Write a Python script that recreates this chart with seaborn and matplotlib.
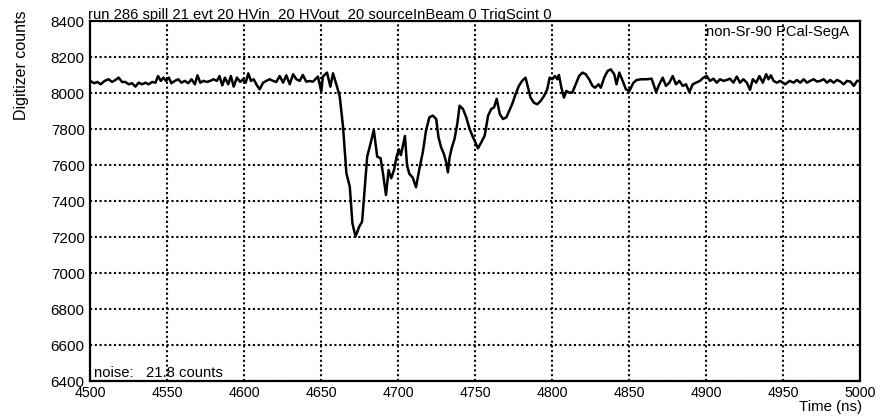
import numpy as np
import pandas as pd
import matplotlib
matplotlib.use("Agg")
import matplotlib.pyplot as plt
import seaborn as sns
from matplotlib.ticker import MultipleLocator

# ---- data ----
time_ns = [
    4500.0, 4502.4, 4504.6, 4506.7, 4509.3, 4511.9, 4514.1, 4516.3, 4518.4, 4520.6,
    4522.8, 4524.9, 4527.1, 4529.3, 4531.4, 4533.6, 4535.8, 4537.9, 4540.1, 4542.3,
    4544.0, 4545.8, 4547.5, 4549.2, 4551.0, 4552.7, 4554.9, 4557.1, 4559.2, 4561.4,
    4563.6, 4565.7, 4567.9, 4569.6, 4571.4, 4573.5, 4575.7, 4577.9, 4580.0, 4582.2,
    4583.9, 4585.7, 4587.4, 4589.6, 4591.3, 4593.1, 4595.2, 4597.4, 4599.1, 4600.9,
    4602.6, 4604.3, 4606.1, 4608.2, 4610.0, 4612.2, 4614.3, 4616.5, 4618.7, 4620.8,
    4623.0, 4625.2, 4627.3, 4629.5, 4631.7, 4633.8, 4636.0, 4638.0, 4640.2, 4642.4,
    4644.6, 4647.8, 4650.0, 4651.0, 4653.7, 4655.9, 4657.6, 4660.2, 4662.0, 4664.1,
    4666.3, 4668.5, 4670.2, 4672.2, 4674.6, 4676.5, 4678.3, 4679.8, 4682.0, 4684.1,
    4686.3, 4688.5, 4690.2, 4692.0, 4693.7, 4695.4, 4697.2, 4698.9, 4700.4, 4701.7,
    4704.3, 4705.7, 4707.2, 4709.3, 4711.5, 4713.7, 4715.9, 4718.0, 4720.2, 4722.4,
    4724.6, 4726.1, 4727.8, 4729.6, 4731.1, 4732.2, 4733.3, 4734.8, 4736.5, 4738.3,
    4739.8, 4742.0, 4744.1, 4746.3, 4748.5, 4750.0, 4751.7, 4753.9, 4756.1, 4758.3,
    4760.4, 4762.2, 4763.9, 4765.9, 4768.0, 4770.2, 4773.9, 4776.1, 4778.3, 4780.4,
    4782.6, 4784.3, 4785.9, 4788.0, 4790.2, 4792.4, 4794.6, 4796.7, 4798.3, 4800.0,
    4801.7, 4803.3, 4804.3, 4805.9, 4807.6, 4809.1, 4810.9, 4813.0, 4815.2, 4817.4,
    4819.6, 4821.7, 4823.9, 4826.1, 4827.8, 4830.0, 4831.5, 4833.7, 4835.9, 4838.0,
    4840.2, 4841.7, 4843.5, 4845.7, 4847.8, 4850.0, 4852.7, 4854.8, 4858.0, 4861.3,
    4864.5, 4867.4, 4869.5, 4871.7, 4873.8, 4876.0, 4878.2, 4880.3, 4882.5, 4884.7,
    4886.8, 4889.0, 4891.2, 4893.3, 4895.9, 4898.1, 4900.3, 4902.4, 4904.6, 4906.8,
    4908.9, 4911.1, 4913.3, 4915.4, 4917.6, 4919.8, 4921.9, 4924.1, 4926.3, 4928.4,
    4930.2, 4932.4, 4934.5, 4936.7, 4938.9, 4940.4, 4941.9, 4943.7, 4945.8, 4948.0,
    4951.2, 4954.1, 4956.7, 4958.8, 4961.0, 4963.2, 4965.4, 4967.5, 4969.7, 4971.9,
    4974.0, 4976.2, 4978.4, 4980.5, 4982.7, 4984.9, 4987.1, 4989.2, 4991.4, 4993.6,
    4995.8, 4997.9, 5000.0,
]
counts = [
    8069, 8056, 8063, 8050, 8069, 8078, 8063, 8074, 8087, 8063,
    8063, 8050, 8056, 8037, 8059, 8050, 8059, 8050, 8063, 8059,
    8096, 8069, 8087, 8069, 8087, 8056, 8069, 8078, 8059, 8069,
    8056, 8078, 8050, 8100, 8059, 8069, 8063, 8069, 8078, 8069,
    8096, 8044, 8087, 8050, 8096, 8037, 8087, 8063, 8078, 8059,
    8111, 8069, 8078, 8044, 8022, 8059, 8069, 8078, 8069, 8063,
    8096, 8059, 8100, 8050, 8106, 8078, 8069, 8102, 8065, 8068,
    8065, 8093, 8009, 8093, 8115, 8037, 8111, 8037, 7981, 7815,
    7556, 7481, 7278, 7204, 7259, 7287, 7481, 7648, 7722, 7796,
    7648, 7639, 7546, 7435, 7574, 7528, 7574, 7648, 7689, 7657,
    7763, 7598, 7552, 7533, 7478, 7580, 7672, 7793, 7867, 7876,
    7857, 7756, 7700, 7663, 7617, 7561, 7644, 7700, 7746, 7830,
    7931, 7913, 7867, 7802, 7756, 7728, 7694, 7728, 7765, 7876,
    7913, 7922, 7969, 7885, 7857, 7867, 7939, 7994, 8041, 8069,
    8087, 8031, 7976, 7948, 7939, 7957, 7985, 8022, 8087, 8078,
    8096, 8078, 8102, 8031, 7976, 8013, 8004, 8004, 8050, 8096,
    8115, 8106, 8078, 8041, 8031, 8050, 8031, 8087, 8124, 8133,
    8106, 8050, 8115, 8069, 8022, 8013, 8059, 8074, 8078, 8078,
    8081, 8007, 8050, 8087, 8041, 8059, 8096, 8050, 8069, 8041,
    8050, 8007, 8050, 8059, 8069, 8087, 8096, 8069, 8081, 8059,
    8078, 8069, 8074, 8081, 8059, 8093, 8059, 8078, 8059, 8019,
    8078, 8059, 8096, 8059, 8106, 8078, 8100, 8069, 8059, 8069,
    8050, 8069, 8059, 8074, 8059, 8078, 8059, 8069, 8078, 8065,
    8069, 8078, 8059, 8074, 8059, 8074, 8065, 8050, 8069, 8065,
    8041, 8069, 8069,
]

title_text = "run 286 spill 21 evt 20 HVin  20 HVout  20 sourceInBeam 0 TrigScint 0"
tag_text = "non-Sr-90 PCal-SegA"
noise_text = "noise:   21.8 counts"
x_label = "Time (ns)"
y_label = "Digitizer counts"
x_range = (4500, 5000)
y_range = (6400, 8400)

df = pd.DataFrame({"t": time_ns, "v": counts})

# ---- style ----
sns.set_theme(style="white")
plt.rcParams["font.family"] = ["Liberation Sans", "DejaVu Sans"]

W, H = 885, 416
fig = plt.figure(figsize=(W / 100, H / 100), dpi=100)
left, right, top, bottom = 90.3, 860.3, 21.3, 381.3
ax = fig.add_axes([left / W, 1 - bottom / H, (right - left) / W, (bottom - top) / H])

sns.lineplot(data=df, x="t", y="v", ax=ax, color="black", linewidth=1.8,
             estimator=None, sort=False)

ax.set_xlim(*x_range)
ax.set_ylim(*y_range)
ax.xaxis.set_major_locator(MultipleLocator(50))
ax.xaxis.set_minor_locator(MultipleLocator(10))
ax.yaxis.set_major_locator(MultipleLocator(200))
ax.yaxis.set_minor_locator(MultipleLocator(50))

ax.grid(True, which="major", color="black", linestyle=(0, (1.0, 1.3)), linewidth=1.5)
ax.set_axisbelow(False)

for s in ax.spines.values():
    s.set_color("black")
    s.set_linewidth(1.6)

ax.tick_params(axis="both", which="both", direction="in", color="black",
               width=1.3, top=False, right=False, labelcolor="black")
ax.tick_params(axis="x", which="major", length=8, pad=3.5, labelsize=10.3)
ax.tick_params(axis="x", which="minor", length=4)
ax.tick_params(axis="y", which="major", length=16.5, pad=4, labelsize=11)
ax.tick_params(axis="y", which="minor", length=8.5)

ax.set_xlabel("")
ax.set_ylabel("")

fig.text(88 / W, 1 - 19.5 / H, title_text, ha="left", va="baseline",
         fontsize=10.7, color="black")
fig.text(849 / W, 1 - 32 / H, tag_text, ha="right", va="center",
         fontsize=10.6, color="black")
fig.text(94 / W, 1 - 373 / H, noise_text, ha="left", va="center",
         fontsize=10.7, color="black")
fig.text(862 / W, 1 - 400 / H, x_label, ha="right", va="top",
         fontsize=10.8, color="black")
fig.text(22 / W, 1 - 10 / H, y_label, ha="center", va="top", rotation=90,
         fontsize=11.5, color="black")

fig.savefig("out.png", dpi=100, facecolor="white")
